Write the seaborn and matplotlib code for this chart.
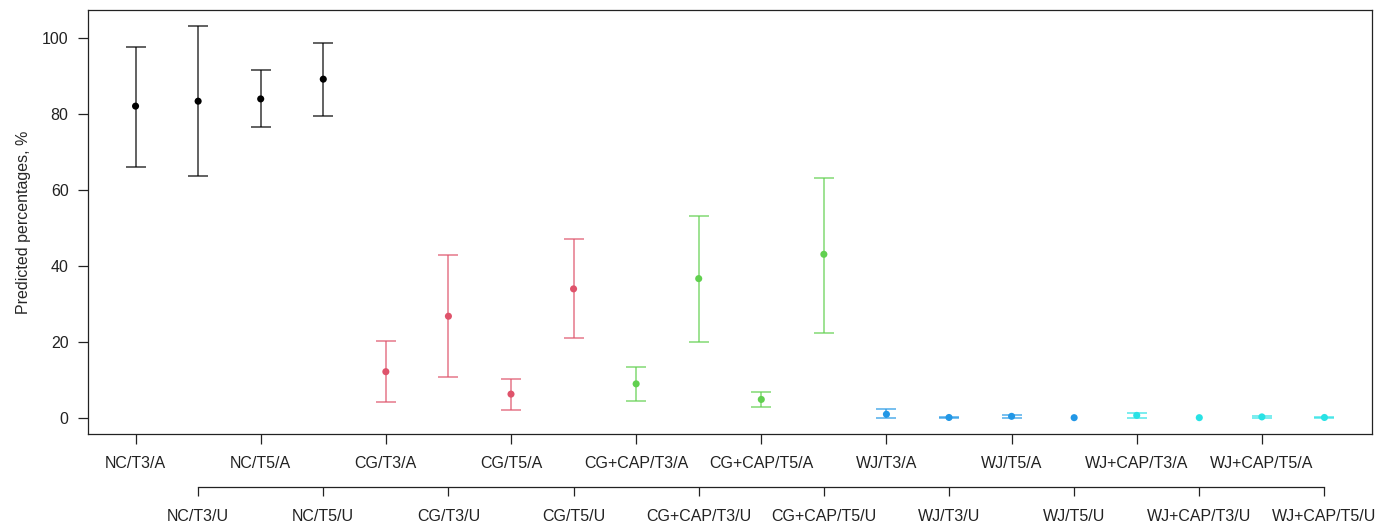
import numpy as np
import pandas as pd
import matplotlib
matplotlib.use("Agg")
import matplotlib.pyplot as plt
import seaborn as sns

# ---- data ----
labels = ["NC/T3/A", "NC/T3/U", "NC/T5/A", "NC/T5/U",
          "CG/T3/A", "CG/T3/U", "CG/T5/A", "CG/T5/U",
          "CG+CAP/T3/A", "CG+CAP/T3/U", "CG+CAP/T5/A", "CG+CAP/T5/U",
          "WJ/T3/A", "WJ/T3/U", "WJ/T5/A", "WJ/T5/U",
          "WJ+CAP/T3/A", "WJ+CAP/T3/U", "WJ+CAP/T5/A", "WJ+CAP/T5/U"]
groups = ["NC"] * 4 + ["CG"] * 4 + ["CG+CAP"] * 4 + ["WJ"] * 4 + ["WJ+CAP"] * 4
estimate = [82.0, 83.3, 83.9, 89.1,
            12.1, 26.7, 6.2, 33.9,
            8.9, 36.6, 4.8, 43.0,
            0.9, 0.05, 0.35, 0.0,
            0.6, 0.0, 0.2, 0.05]
lower = [66.1, 63.6, 76.4, 79.3,
         4.1, 10.6, 1.9, 21.0,
         4.3, 19.8, 2.7, 22.3,
         0.0, 0.0, 0.0, np.nan,
         0.0, np.nan, 0.0, 0.0]
upper = [97.6, 103.2, 91.5, 98.7,
         20.2, 42.7, 10.2, 47.0,
         13.4, 53.2, 6.8, 63.0,
         2.4, 0.1, 0.8, np.nan,
         1.2, np.nan, 0.5, 0.2]
group_colors = {"NC": "#000000", "CG": "#DF536B", "CG+CAP": "#61D04F",
                "WJ": "#2297E6", "WJ+CAP": "#28E2E5"}

df = pd.DataFrame({"label": labels, "group": groups, "est": estimate,
                   "lo": lower, "hi": upper})
df["pos"] = np.arange(1, len(df) + 1)

# ---- plot ----
sns.set_style("ticks")
plt.rcParams["font.family"] = ["Liberation Sans", "DejaVu Sans"]
plt.rcParams["font.size"] = 11.5

fig, ax = plt.subplots(figsize=(13.92, 5.27), dpi=100)
fig.subplots_adjust(left=88 / 1392, right=1372 / 1392, top=1 - 10 / 527, bottom=1 - 434 / 527)

for g, sub in df.groupby("group", sort=False):
    ax.errorbar(sub["pos"], sub["est"],
                yerr=[sub["est"] - sub["lo"], sub["hi"] - sub["est"]],
                fmt="none", ecolor=group_colors[g], alpha=0.72,
                capsize=7, elinewidth=1.2, capthick=1.2, zorder=2)

sns.scatterplot(data=df, x="pos", y="est", hue="group", palette=group_colors,
                legend=False, s=26, edgecolor="none", zorder=3, ax=ax)

ax.set_xlim(0.24, 20.76)
ax.set_ylim(-4.3, 107.3)
ax.set_yticks([0, 20, 40, 60, 80, 100])
ax.set_ylabel("Predicted percentages, %", fontsize=11.5, labelpad=8)
ax.set_xlabel("")

for sp in ax.spines.values():
    sp.set_visible(True)
    sp.set_color("#222222")
    sp.set_linewidth(0.9)

odd = df.iloc[0::2]
even = df.iloc[1::2]
ax.set_xticks(odd["pos"])
ax.set_xticklabels(odd["label"])
ax.tick_params(axis="both", direction="out", length=7, width=0.9, color="#222222",
               labelsize=11.5, labelcolor="#222222", bottom=True, left=True)
ax.tick_params(axis="x", pad=9)
ax.tick_params(axis="y", pad=7)

sec = ax.secondary_xaxis(-0.125)
sec.set_xticks(even["pos"])
sec.set_xticklabels(even["label"])
sec.tick_params(axis="x", direction="out", length=6.5, width=0.9, color="#222222",
                labelsize=11.5, labelcolor="#222222", pad=9, bottom=True)
sec.spines["bottom"].set_bounds(even["pos"].iloc[0], even["pos"].iloc[-1])
sec.spines["bottom"].set_color("#222222")
sec.spines["bottom"].set_linewidth(0.9)

fig.savefig("out.png", dpi=100)
